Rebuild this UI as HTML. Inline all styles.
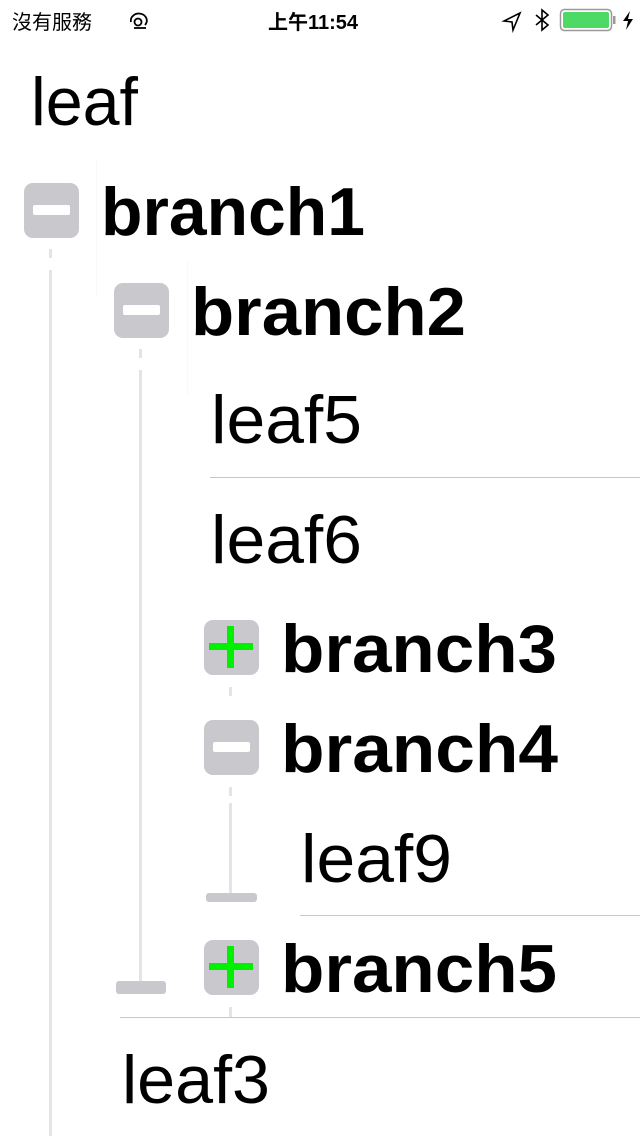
<!DOCTYPE html>
<html><head><meta charset="utf-8"><style>
html,body{margin:0;padding:0;background:#fff;width:640px;height:1136px;overflow:hidden}
svg{display:block}
.r{font-family:"Liberation Sans",sans-serif;font-size:68px;fill:#000}
.b{font-family:"Liberation Sans",sans-serif;font-size:68px;font-weight:bold;fill:#000}
.s{font-family:"Liberation Sans","Noto Sans CJK TC",sans-serif;font-size:20px;fill:#000}
</style></head><body>
<svg width="640" height="1136" viewBox="0 0 640 1136" xmlns="http://www.w3.org/2000/svg">
<!-- status bar -->
<text class="s" x="12" y="29">沒有服務</text>
<g fill="none" stroke="#000" stroke-width="1.8">
<path d="M131 22 A8 7 0 1 1 145 25"/>
<circle cx="138" cy="22" r="3.5"/>
<path d="M134 28 L146 28"/>
</g>
<text class="s" x="268" y="29" font-weight="bold">上午11:54</text>
<path d="M520 13 L504 21 L512 22 L513 30 Z" fill="none" stroke="#000" stroke-width="1.6"/>
<path d="M536 15 L548 25 L542 30 L542 10 L548 15 L536 25" fill="none" stroke="#000" stroke-width="1.6"/>
<rect x="560.5" y="9.5" width="51" height="21" rx="4" fill="none" stroke="#999" stroke-width="1.5"/>
<rect x="563" y="12" width="46" height="16" rx="2" fill="#4cd964"/>
<rect x="613" y="16" width="2.5" height="8" fill="#999"/>
<path d="M630 11 L623 21 L628 21 L626 30 L633 19 L628 19 Z" fill="#000"/>

<!-- faint verticals -->
<rect x="96" y="160" width="1" height="135" fill="#f8f8f8"/>
<rect x="187" y="260" width="1" height="135" fill="#f8f8f8"/>

<!-- connectors -->
<g fill="#e3e3e8">
<rect x="49" y="249" width="3" height="9"/>
<rect x="49" y="270" width="3" height="866"/>
<rect x="139" y="349" width="3" height="9"/>
<rect x="139" y="370" width="3" height="616"/>
<rect x="229" y="687" width="3" height="9"/>
<rect x="229" y="787" width="3" height="9"/>
<rect x="229" y="803" width="3" height="92"/>
<rect x="229" y="1007" width="3" height="10"/>
</g>
<rect x="116" y="981" width="50" height="13" rx="3" fill="#c8c8cd"/>
<rect x="206" y="893" width="51" height="9" rx="3" fill="#c8c8cd"/>

<!-- separators -->
<rect x="210" y="477" width="430" height="1" fill="#c8c8cc"/>
<rect x="300" y="915" width="340" height="1" fill="#c8c8cc"/>
<rect x="120" y="1017" width="520" height="1" fill="#c8c8cc"/>

<!-- icons -->
<g fill="#c8c8cd">
<rect x="24" y="183" width="55" height="55" rx="9"/>
<rect x="114" y="283" width="55" height="55" rx="9"/>
<rect x="204" y="620" width="55" height="55" rx="9"/>
<rect x="204" y="720" width="55" height="55" rx="9"/>
<rect x="204" y="940" width="55" height="55" rx="9"/>
</g>
<g fill="#fff">
<rect x="33" y="205" width="37" height="10" rx="2"/>
<rect x="123" y="305" width="37" height="10" rx="2"/>
<rect x="213" y="742" width="37" height="10" rx="2"/>
</g>
<g fill="#00f000">
<rect x="209" y="643" width="44" height="7"/>
<rect x="227" y="626" width="7" height="42"/>
<rect x="209" y="963" width="44" height="7"/>
<rect x="227" y="946" width="7" height="42"/>
</g>

<!-- labels -->
<text class="r" x="31" y="125" textLength="107" lengthAdjust="spacingAndGlyphs">leaf</text>
<text class="b" x="101" y="235" textLength="264" lengthAdjust="spacingAndGlyphs">branch1</text>
<text class="b" x="191" y="335" textLength="275" lengthAdjust="spacingAndGlyphs">branch2</text>
<text class="r" x="211" y="443" textLength="151" lengthAdjust="spacingAndGlyphs">leaf5</text>
<text class="r" x="211" y="563" textLength="151" lengthAdjust="spacingAndGlyphs">leaf6</text>
<text class="b" x="281" y="672" textLength="276" lengthAdjust="spacingAndGlyphs">branch3</text>
<text class="b" x="281" y="772" textLength="277" lengthAdjust="spacingAndGlyphs">branch4</text>
<text class="r" x="301" y="882" textLength="151" lengthAdjust="spacingAndGlyphs">leaf9</text>
<text class="b" x="281" y="992" textLength="276" lengthAdjust="spacingAndGlyphs">branch5</text>
<text class="r" x="122" y="1103" textLength="148" lengthAdjust="spacingAndGlyphs">leaf3</text>
</svg>
</body></html>
